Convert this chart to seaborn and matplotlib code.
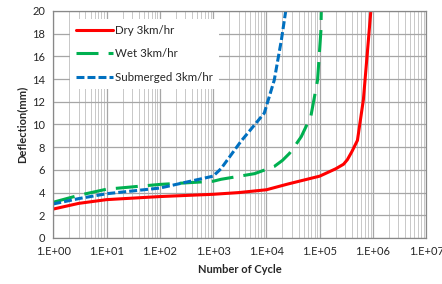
import matplotlib
matplotlib.use("Agg")
import matplotlib.pyplot as plt
import seaborn as sns
import pandas as pd
from matplotlib.ticker import FixedLocator, LogLocator, NullFormatter

sns.set_style("white")
plt.rcParams['font.family'] = ['Lato', 'DejaVu Sans']

dry_x = [1, 3, 10, 100, 1000, 3000, 1e4, 2.5e4, 1e5, 2e5, 2.8e5, 3.3e5, 4e5, 5.1e5, 6.6e5, 9.1e5]
dry_y = [2.55, 3.05, 3.38, 3.65, 3.85, 4.0, 4.25, 4.75, 5.45, 6.1, 6.5, 6.9, 7.6, 8.6, 12.2, 20]
wet_x = [1, 3, 10, 100, 1000, 1400, 6000, 1.4e4, 2e4, 2.7e4, 3.3e4, 4.5e4, 6.8e4, 9.1e4, 1.05e5, 1.07e5]
wet_y = [3.15, 3.76, 4.3, 4.72, 5.0, 5.17, 5.67, 6.3, 6.84, 7.45, 8.0, 8.93, 10.7, 13.9, 18.2, 20]
sub_x = [1, 3, 10, 100, 1000, 1400, 3300, 9100, 1.4e4, 1.9e4, 2.3e4]
sub_y = [3.0, 3.47, 3.9, 4.4, 5.45, 6.1, 8.5, 11.0, 13.9, 17.4, 20]
series = ["Dry 3km/hr", "Wet 3km/hr", "Submerged 3km/hr"]
colors = ["#FF0000", "#00B050", "#0070C0"]
x_ticks = [1, 10, 100, 1e3, 1e4, 1e5, 1e6, 1e7]
x_labels = ["1.E+00", "1.E+01", "1.E+02", "1.E+03", "1.E+04", "1.E+05", "1.E+06", "1.E+07"]
y_ticks = list(range(0, 21, 2))

fig = plt.figure(figsize=(4.42, 2.84), dpi=100)
ax = fig.add_axes([0.1206, 0.162, 0.8439, 0.7993])

dashes = [(None, None), (7.2, 3.3), (2.6, 1.0)]
for xs, ys, name, c, d in zip([dry_x, wet_x, sub_x], [dry_y, wet_y, sub_y], series, colors, dashes):
    df = pd.DataFrame({"x": xs, "y": ys})
    sns.lineplot(data=df, x="x", y="y", ax=ax, color=c, lw=2.2, label=name, sort=False)
    line = ax.lines[-1]
    if d[0] is not None:
        line.set_dashes(d)

ax.set_xscale("log")
ax.set_xlim(1, 1e7)
ax.set_ylim(0, 20)
ax.xaxis.set_major_locator(FixedLocator(x_ticks))
ax.set_xticklabels(x_labels)
ax.xaxis.set_minor_locator(LogLocator(base=10, subs=range(2, 10), numticks=100))
ax.xaxis.set_minor_formatter(NullFormatter())
ax.set_yticks(y_ticks)
ax.grid(True, which="major", color="#a6a6a6", lw=0.9)
ax.grid(True, which="minor", axis="x", color="#c8c8c8", lw=0.7)
ax.set_axisbelow(True)
for s in ax.spines.values():
    s.set_color("#888888")
    s.set_linewidth(0.9)
ax.tick_params(axis="both", which="major", labelsize=8, length=4, color="#888888", direction="out", pad=2)
ax.tick_params(axis="x", which="minor", length=0)
ax.set_xlabel("Number of Cycle", fontsize=8, fontweight="bold", labelpad=5)
ax.set_ylabel("Deflection(mm)", fontsize=8, fontweight="bold", labelpad=3)

handles, labels = ax.get_legend_handles_labels()
leg = ax.legend(handles, labels, loc="upper left", bbox_to_anchor=(0.03, 0.99), fontsize=8.3,
                frameon=True, facecolor="white", edgecolor="none", framealpha=1, fancybox=False,
                handlelength=3.2, handletextpad=0.2, labelspacing=1.1, borderpad=0.5)

fig.savefig("out.png", dpi=100)
